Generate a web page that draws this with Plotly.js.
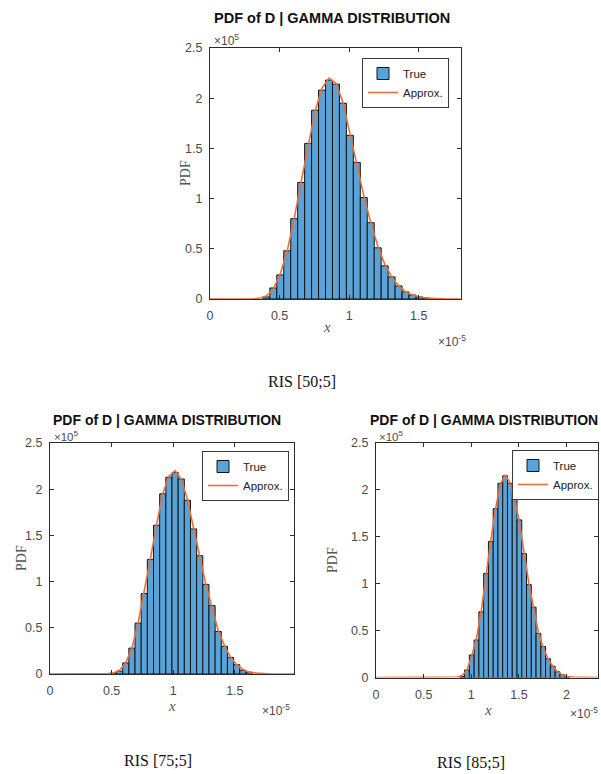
<!DOCTYPE html>
<html>
<head>
<meta charset="utf-8">
<script src="https://cdn.plot.ly/plotly-3.0.1.min.js"></script>
<style>
  html, body { margin: 0; padding: 0; background: #ffffff; }
  #chart { width: 601px; height: 774px; }
</style>
</head>
<body>
<div id="chart"></div>
<script>
// ---------------- DATA (x in units of 1e-5, PDF in units of 1e5) ----------------
const chartTitle = "PDF of D | GAMMA DISTRIBUTION";
const captions = ["RIS [50;5]", "RIS [75;5]", "RIS [85;5]"];
const seriesNames = ["True", "Approx."];
const binWidth = 0.05;

// RIS [50;5]
const ris50BinCenters = [0.405,0.455,0.505,0.555,0.605,0.655,0.705,0.755,0.805,0.855,0.905,0.955,1.005,1.055,1.105,1.155,1.205,1.255,1.305,1.355,1.405,1.455,1.505,1.555];
const ris50True = [0.02,0.11,0.24,0.48,0.80,1.16,1.55,1.88,2.08,2.18,2.14,1.95,1.63,1.36,1.01,0.76,0.51,0.33,0.22,0.13,0.07,0.04,0.02,0.01];
const ris50ApproxX = [0,0.30,0.36,0.405,0.455,0.505,0.555,0.605,0.655,0.705,0.755,0.805,0.855,0.905,0.955,1.005,1.055,1.105,1.155,1.205,1.255,1.305,1.355,1.405,1.455,1.505,1.555,1.62,1.70,1.80];
const ris50ApproxY = [0,0,0.01,0.03,0.10,0.25,0.48,0.80,1.17,1.54,1.87,2.10,2.20,2.15,1.96,1.65,1.34,1.03,0.76,0.53,0.35,0.22,0.13,0.07,0.04,0.02,0.01,0.005,0,0];

// RIS [75;5]
const ris75BinCenters = [0.515,0.565,0.615,0.665,0.715,0.765,0.815,0.865,0.915,0.965,1.015,1.065,1.115,1.165,1.215,1.265,1.315,1.365,1.415,1.465,1.515,1.565,1.615];
const ris75True = [0.01,0.03,0.12,0.28,0.55,0.87,1.24,1.61,1.95,2.13,2.18,2.11,1.88,1.57,1.28,0.97,0.74,0.46,0.30,0.18,0.10,0.04,0.02];
const ris75ApproxX = [0,0.40,0.47,0.515,0.565,0.615,0.665,0.715,0.765,0.815,0.865,0.915,0.965,1.015,1.065,1.115,1.165,1.215,1.265,1.315,1.365,1.415,1.465,1.515,1.565,1.615,1.68,1.80,1.98];
const ris75ApproxY = [0,0,0.005,0.01,0.04,0.12,0.28,0.55,0.88,1.25,1.62,1.95,2.14,2.20,2.11,1.89,1.58,1.27,0.97,0.72,0.47,0.31,0.18,0.10,0.05,0.02,0.01,0,0];

// RIS [85;5]
const ris85BinCenters = [0.905,0.955,1.005,1.055,1.105,1.155,1.205,1.255,1.305,1.355,1.405,1.455,1.505,1.555,1.605,1.655,1.705,1.755,1.805,1.855,1.905,1.955,2.005];
const ris85True = [0.01,0.08,0.24,0.40,0.70,1.11,1.45,1.80,2.07,2.15,2.07,1.91,1.68,1.32,0.99,0.75,0.47,0.33,0.20,0.12,0.06,0.03,0.01];
const ris85ApproxX = [0,0.78,0.85,0.905,0.955,1.005,1.055,1.105,1.155,1.205,1.255,1.305,1.355,1.405,1.455,1.505,1.555,1.605,1.655,1.705,1.755,1.805,1.855,1.905,1.955,2.005,2.08,2.20,2.33];
const ris85ApproxY = [0,0,0.005,0.02,0.08,0.23,0.42,0.71,1.10,1.46,1.80,2.06,2.16,2.08,1.90,1.66,1.33,1.00,0.74,0.48,0.32,0.20,0.12,0.06,0.03,0.01,0.005,0,0];

// ---------------- STYLE ----------------
const W = 601, H = 774;
const px = v => v / W;
const py = v => 1 - v / H;
const SANS = "Liberation Sans, Arial, sans-serif";
const SERIF = "Liberation Serif, Times New Roman, serif";
const barFill = "#5aa3d8";
const barEdge = "#141414";
const approxColor = "#e8703a";
const axisColor = "#2b2b2b";
const tickFontColor = "#4a4a4a";

const panels = [
  { xa: "x",  ya: "y",  lg: "legend",  cx: ris50BinCenters, cy: ris50True, ax: ris50ApproxX, ay: ris50ApproxY },
  { xa: "x2", ya: "y2", lg: "legend2", cx: ris75BinCenters, cy: ris75True, ax: ris75ApproxX, ay: ris75ApproxY },
  { xa: "x3", ya: "y3", lg: "legend3", cx: ris85BinCenters, cy: ris85True, ax: ris85ApproxX, ay: ris85ApproxY }
];

const traces = [];
panels.forEach(p => {
  traces.push({
    type: "bar", x: p.cx, y: p.cy, width: binWidth,
    xaxis: p.xa, yaxis: p.ya, legend: p.lg, name: seriesNames[0],
    marker: { color: barFill, line: { color: barEdge, width: 1 } },
    hoverinfo: "x+y"
  });
  traces.push({
    type: "scatter", mode: "lines", x: p.ax, y: p.ay,
    xaxis: p.xa, yaxis: p.ya, legend: p.lg, name: seriesNames[1],
    line: { color: approxColor, width: 1.6 },
    hoverinfo: "x+y"
  });
});

function xAxis(domain, range, anchor) {
  return {
    domain: domain, range: range, anchor: anchor,
    dtick: 0.5, tick0: 0, ticks: "inside", ticklen: 4, tickwidth: 1, tickcolor: axisColor,
    showline: true, linecolor: axisColor, linewidth: 1, mirror: "ticks",
    showgrid: false, zeroline: false, fixedrange: true,
    tickfont: { family: SANS, size: 12.5, color: tickFontColor },
    ticklabelstandoff: 5
  };
}
function yAxis(domain, anchor) {
  return {
    domain: domain, range: [0, 2.5], anchor: anchor,
    dtick: 0.5, tick0: 0, ticks: "inside", ticklen: 4, tickwidth: 1, tickcolor: axisColor,
    showline: true, linecolor: axisColor, linewidth: 1, mirror: "ticks",
    showgrid: false, zeroline: false, fixedrange: true,
    tickfont: { family: SANS, size: 12.5, color: tickFontColor },
    ticklabelstandoff: 4
  };
}
function legendAt(x, y) {
  return {
    x: px(x), y: py(y), xanchor: "left", yanchor: "top",
    xref: "paper", yref: "paper",
    bgcolor: "#ffffff", bordercolor: "#3a3a3a", borderwidth: 1,
    font: { family: SANS, size: 11.5, color: "#222222" },
    itemwidth: 30, tracegroupgap: 0, traceorder: "normal"
  };
}

function txt(x, y, text, opts) {
  return Object.assign({
    xref: "paper", yref: "paper", x: px(x), y: py(y), text: text,
    showarrow: false, xanchor: "center", yanchor: "middle"
  }, opts);
}

const annotations = [
  // titles
  txt(332, 18, "<b>" + chartTitle + "</b>", { font: { family: SANS, size: 14.5, color: "#111" } }),
  txt(167, 420, "<b>" + chartTitle + "</b>", { font: { family: SANS, size: 14, color: "#111" } }),
  txt(484, 420, "<b>" + chartTitle + "</b>", { font: { family: SANS, size: 14, color: "#111" } }),
  // y multipliers
  txt(212, 40, "×10<sup>5</sup>", { xanchor: "left", font: { family: SANS, size: 12, color: tickFontColor } }),
  txt(52, 436, "×10<sup>5</sup>", { xanchor: "left", font: { family: SANS, size: 11.5, color: tickFontColor } }),
  txt(377, 436, "×10<sup>5</sup>", { xanchor: "left", font: { family: SANS, size: 11.5, color: tickFontColor } }),
  // x multipliers
  txt(468, 341, "×10<sup>-5</sup>", { xanchor: "right", font: { family: SANS, size: 12, color: tickFontColor } }),
  txt(292, 710, "×10<sup>-5</sup>", { xanchor: "right", font: { family: SANS, size: 12, color: tickFontColor } }),
  txt(600, 713, "×10<sup>-5</sup>", { xanchor: "right", font: { family: SANS, size: 12, color: tickFontColor } }),
  // y axis labels
  txt(185, 173, "PDF", { textangle: -90, font: { family: SERIF, size: 14, color: "#555" } }),
  txt(21, 558, "PDF", { textangle: -90, font: { family: SERIF, size: 14, color: "#555" } }),
  txt(332, 560, "PDF", { textangle: -90, font: { family: SERIF, size: 14, color: "#555" } }),
  // x axis labels
  txt(327, 327, "<i>x</i>", { font: { family: SERIF, size: 15, color: "#555" } }),
  txt(172, 706, "<i>x</i>", { font: { family: SERIF, size: 15, color: "#555" } }),
  txt(488, 710, "<i>x</i>", { font: { family: SERIF, size: 15, color: "#555" } }),
  // captions
  txt(302, 381, captions[0], { font: { family: SERIF, size: 16, color: "#111" } }),
  txt(158, 760, captions[1], { font: { family: SERIF, size: 16, color: "#111" } }),
  txt(471, 762, captions[2], { font: { family: SERIF, size: 16, color: "#111" } })
];

const layout = {
  width: W, height: H, autosize: false,
  margin: { l: 0, r: 0, t: 0, b: 0, pad: 0 },
  paper_bgcolor: "#ffffff", plot_bgcolor: "#ffffff",
  showlegend: true, bargap: 0,
  xaxis:  xAxis([px(210), px(460.5)], [0, 1.8], "y"),
  yaxis:  yAxis([py(299), py(48)], "x"),
  xaxis2: xAxis([px(50), px(294)], [0, 1.98], "y2"),
  yaxis2: yAxis([py(674), py(443)], "x2"),
  xaxis3: xAxis([px(376), px(598)], [0, 2.33], "y3"),
  yaxis3: yAxis([py(677.5), py(443)], "x3"),
  legend:  legendAt(362, 58),
  legend2: legendAt(202, 451),
  legend3: legendAt(512, 450),
  annotations: annotations
};

Plotly.newPlot("chart", traces, layout, { displayModeBar: false, staticPlot: true });
</script>
</body>
</html>
